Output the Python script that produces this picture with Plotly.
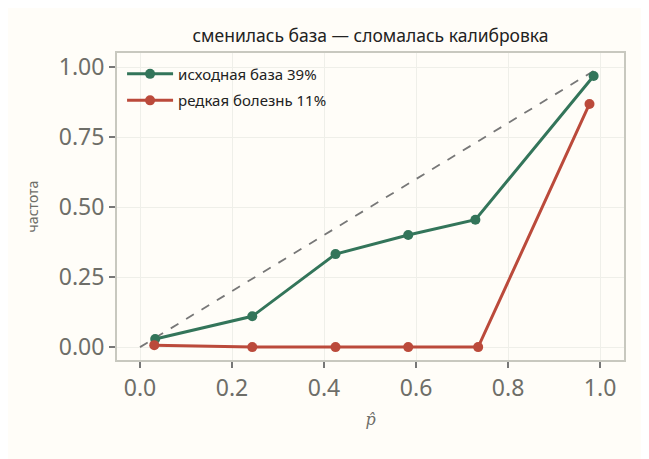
import plotly.graph_objects as go

title = "сменилась база — сломалась калибровка"
x_base = [0.033, 0.244, 0.425, 0.583, 0.729, 0.986]
y_base = [0.029, 0.110, 0.332, 0.400, 0.455, 0.968]
x_rare = [0.031, 0.244, 0.425, 0.583, 0.735, 0.977]
y_rare = [0.007, 0.000, 0.000, 0.000, 0.000, 0.868]
diag = [0.0, 1.0]
name_base = "исходная база 39%"
name_rare = "редкая болезнь 11%"

GREEN = "#33755a"
RED = "#bb4a3b"
BG = "#fffdf8"
FONT = "Noto Sans"

fig = go.Figure()
fig.add_trace(go.Scatter(x=diag, y=diag, mode="lines", showlegend=False,
                         line=dict(color="#777777", width=1.8, dash="dash"), hoverinfo="skip"))
fig.add_trace(go.Scatter(x=x_base, y=y_base, mode="lines+markers", name=name_base, legendgroup="a",
                         line=dict(color=GREEN, width=3), marker=dict(size=10, color=GREEN)))
fig.add_trace(go.Scatter(x=x_rare, y=y_rare, mode="lines+markers", name=name_rare, legendgroup="b",
                         line=dict(color=RED, width=3), marker=dict(size=10, color=RED)))

axis_common = dict(showline=True, mirror=True, linecolor="#c8c8bf", linewidth=2,
                   showgrid=True, gridcolor="#efefe9", gridwidth=1, zeroline=False,
                   ticks="outside", ticklen=6, tickwidth=1.5, tickcolor="#777777",
                   tickfont=dict(size=23, color="#6e6e68", family=FONT))

fig.update_xaxes(range=[-0.05, 1.052], tickvals=[0, 0.2, 0.4, 0.6, 0.8, 1.0],
                 ticktext=["0.0", "0.2", "0.4", "0.6", "0.8", "1.0"],
                 title=dict(text="<i>p̂</i>", font=dict(size=16, color="#6e6e68", family="DejaVu Serif"), standoff=12),
                 **axis_common)
fig.update_yaxes(range=[-0.046, 1.05], tickvals=[0, 0.25, 0.5, 0.75, 1.0],
                 ticktext=["0.00", "0.25", "0.50", "0.75", "1.00"],
                 title=dict(text="частота", font=dict(size=14, color="#6e6e68", family=FONT), standoff=17),
                 **axis_common)

fig.update_layout(
    width=649, height=459,
    paper_bgcolor=BG, plot_bgcolor=BG,
    margin=dict(l=109, r=33, t=45, b=107),
    font=dict(family=FONT, color="#333333"),
    title=dict(text=title, x=0.5, xref="paper", xanchor="center", y=0.94, yanchor="middle",
               font=dict(size=17.5, color="#222222", family=FONT)),
    legend=dict(x=0.01, y=0.985, xanchor="left", yanchor="top", bgcolor="rgba(0,0,0,0)",
                font=dict(size=15, color="#222222", family=FONT), itemwidth=46,
                traceorder="grouped", tracegroupgap=4),
    showlegend=True,
)

fig.write_html("out.html")
